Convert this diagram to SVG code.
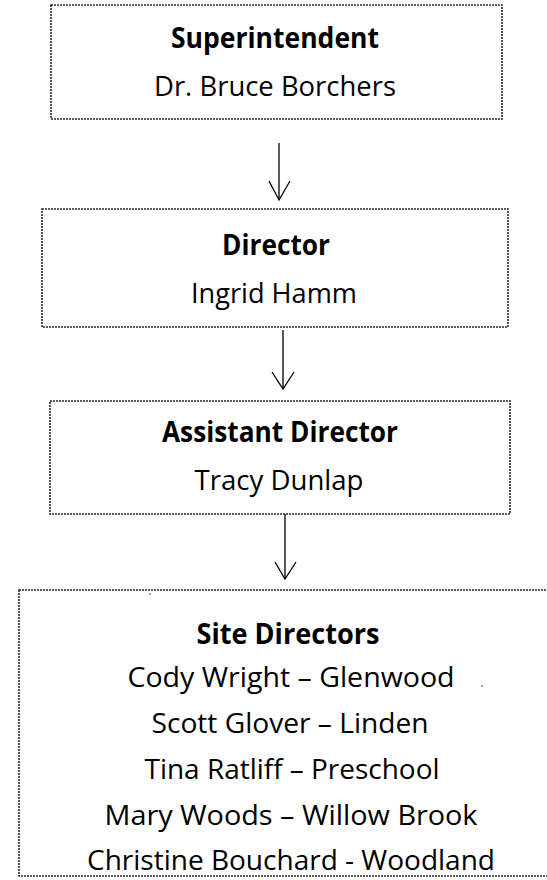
<svg xmlns="http://www.w3.org/2000/svg" width="547" height="880" viewBox="0 0 547 880">
  <style>
    .box { fill: #ffffff; stroke: #2a2a2a; stroke-width: 1.6; stroke-dasharray: 2 1; }
    .t { font-family: "Open Sans", "Noto Sans", "Liberation Sans", sans-serif; font-size: 28px; fill: #000; text-anchor: middle; }
    .b { font-weight: bold; }
    .conn { stroke: #000; stroke-width: 1.3; fill: none; }
  </style>
  <rect width="547" height="880" fill="#ffffff"/>
  <g id="connectors">
    <line class="conn" x1="279" y1="143" x2="279" y2="200"/>
    <polyline class="conn" points="269,181 279,200 290,181"/>
    <line class="conn" x1="283" y1="330" x2="283" y2="389"/>
    <polyline class="conn" points="272,372 283,389 294,372"/>
    <line class="conn" x1="285" y1="514" x2="285" y2="579"/>
    <polyline class="conn" points="275,562 285,579 296,562"/>
  </g>
  <g id="superintendent">
    <rect class="box" x="51" y="5" width="451" height="114"/>
    <text class="t b" x="275" y="48" textLength="208" lengthAdjust="spacingAndGlyphs">Superintendent</text>
    <text class="t" x="275" y="96" textLength="242" lengthAdjust="spacingAndGlyphs">Dr. Bruce Borchers</text>
  </g>
  <g id="director">
    <rect class="box" x="42" y="209" width="466" height="118"/>
    <text class="t b" x="276" y="255" textLength="108" lengthAdjust="spacingAndGlyphs">Director</text>
    <text class="t" x="274" y="303" textLength="166" lengthAdjust="spacingAndGlyphs">Ingrid Hamm</text>
  </g>
  <g id="assistant-director">
    <rect class="box" x="50" y="401" width="460" height="113"/>
    <text class="t b" x="280" y="442" textLength="236" lengthAdjust="spacingAndGlyphs">Assistant Director</text>
    <text class="t" x="279" y="490" textLength="169" lengthAdjust="spacingAndGlyphs">Tracy Dunlap</text>
  </g>
  <g id="site-directors">
    <rect class="box" x="19" y="590" width="540" height="286"/>
    <text class="t b" x="288" y="644" textLength="183" lengthAdjust="spacingAndGlyphs">Site Directors</text>
    <text class="t" x="291" y="687" textLength="327" lengthAdjust="spacingAndGlyphs">Cody Wright – Glenwood</text>
    <text class="t" x="290" y="733" textLength="277" lengthAdjust="spacingAndGlyphs">Scott Glover – Linden</text>
    <text class="t" x="292" y="779" textLength="295" lengthAdjust="spacingAndGlyphs">Tina Ratliff – Preschool</text>
    <text class="t" x="291" y="825" textLength="373" lengthAdjust="spacingAndGlyphs">Mary Woods – Willow Brook</text>
    <text class="t" x="291" y="870" textLength="408" lengthAdjust="spacingAndGlyphs">Christine Bouchard - Woodland</text>
  </g>
  <g id="specks" fill="#333">
    <circle cx="150" cy="594" r="0.8"/>
    <circle cx="482" cy="686" r="0.8"/>
  </g>
</svg>
